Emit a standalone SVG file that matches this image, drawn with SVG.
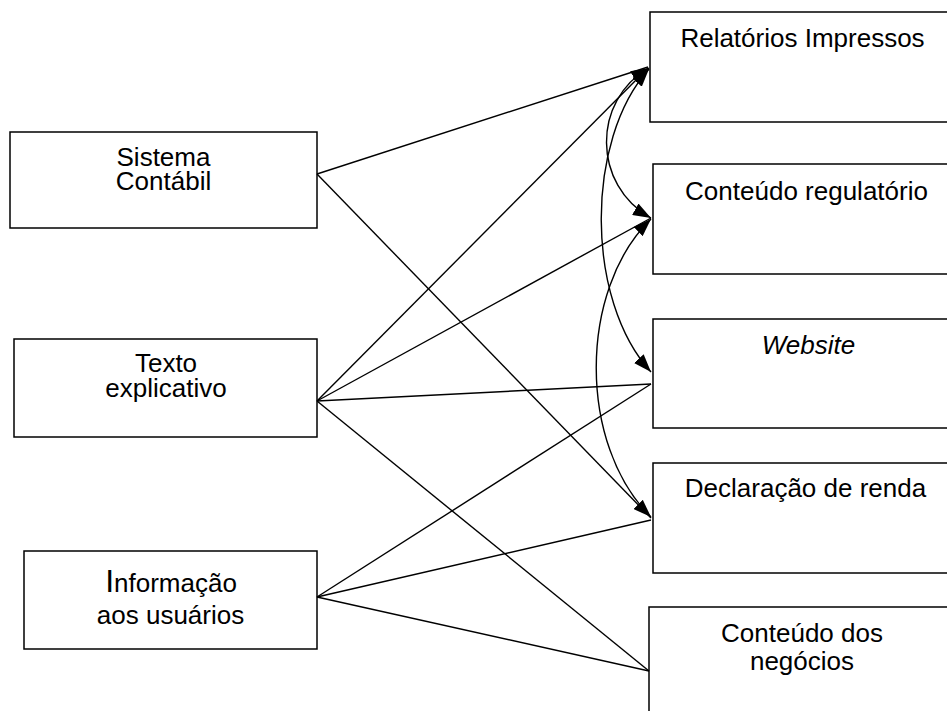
<svg xmlns="http://www.w3.org/2000/svg" width="947" height="711" viewBox="0 0 947 711">
  <style>
    .box { fill: #ffffff; stroke: #000000; stroke-width: 1.5; }
    .lbl { font-family: "Liberation Sans", Arial, sans-serif; font-size: 26px; fill: #000000; text-anchor: middle; }
    .it { font-style: italic; }
    .link { fill: none; stroke: #000000; stroke-width: 1.4; }
    .curve { fill: none; stroke: #000000; stroke-width: 1.4; marker-start: url(#head); marker-end: url(#head); }
  </style>
  <defs>
    <marker id="head" viewBox="0 0 18 13" refX="18" refY="6.5" markerWidth="18" markerHeight="13" markerUnits="userSpaceOnUse" orient="auto-start-reverse">
      <path d="M0,0 L18,6.5 L0,13 Z" fill="#000000"/>
    </marker>
  </defs>
  <rect width="947" height="711" fill="#ffffff"/>

  <!-- sources -->
  <g id="sistema-contabil">
    <rect class="box" x="10" y="132" width="307" height="96"/>
    <text class="lbl" x="163.5" y="166">Sistema</text>
    <text class="lbl" x="163.5" y="190">Contábil</text>
  </g>
  <g id="texto-explicativo">
    <rect class="box" x="14" y="339" width="303" height="98"/>
    <text class="lbl" x="166" y="372">Texto</text>
    <text class="lbl" x="166" y="397">explicativo</text>
  </g>
  <g id="informacao-usuarios">
    <rect class="box" x="24" y="551" width="293" height="98"/>
    <text class="lbl" x="171" y="592"><tspan font-size="32">I</tspan>nformação</text>
    <text class="lbl" x="170.5" y="624">aos usuários</text>
  </g>

  <!-- outputs -->
  <g id="relatorios-impressos">
    <rect class="box" x="650" y="12" width="320" height="110"/>
    <text class="lbl" x="802.5" y="47">Relatórios Impressos</text>
  </g>
  <g id="conteudo-regulatorio">
    <rect class="box" x="653" y="164" width="320" height="110"/>
    <text class="lbl" x="806.5" y="200">Conteúdo regulatório</text>
  </g>
  <g id="website">
    <rect class="box" x="653" y="319" width="320" height="109"/>
    <text class="lbl it" x="808.5" y="354">Website</text>
  </g>
  <g id="declaracao-renda">
    <rect class="box" x="653" y="463" width="320" height="110"/>
    <text class="lbl" x="805.5" y="497">Declaração de renda</text>
  </g>
  <g id="conteudo-negocios">
    <rect class="box" x="649" y="607" width="320" height="120"/>
    <text class="lbl" x="802" y="642">Conteúdo dos</text>
    <text class="lbl" x="802" y="670">negócios</text>
  </g>

  <g id="connectors">
    <!-- straight links from sources -->
    <line class="link" x1="317" y1="174" x2="648" y2="67"/>
    <line class="link" x1="317" y1="174" x2="651" y2="518"/>
    <line class="link" x1="317" y1="401" x2="648" y2="68"/>
    <line class="link" x1="317" y1="401" x2="651" y2="218"/>
    <line class="link" x1="317" y1="401" x2="651" y2="384"/>
    <line class="link" x1="317" y1="401" x2="649" y2="671"/>
    <line class="link" x1="317" y1="597" x2="651" y2="384"/>
    <line class="link" x1="317" y1="597" x2="651" y2="520"/>
    <line class="link" x1="317" y1="597" x2="649" y2="671"/>
    <!-- curved links between outputs -->
    <path class="curve" d="M649,68 C592,100 592,185 651,218"/>
    <path class="curve" d="M649,69 C585,140 585,300 651,372"/>
    <path class="curve" d="M651,219 C578,290 578,445 651,517"/>
  </g>
</svg>
